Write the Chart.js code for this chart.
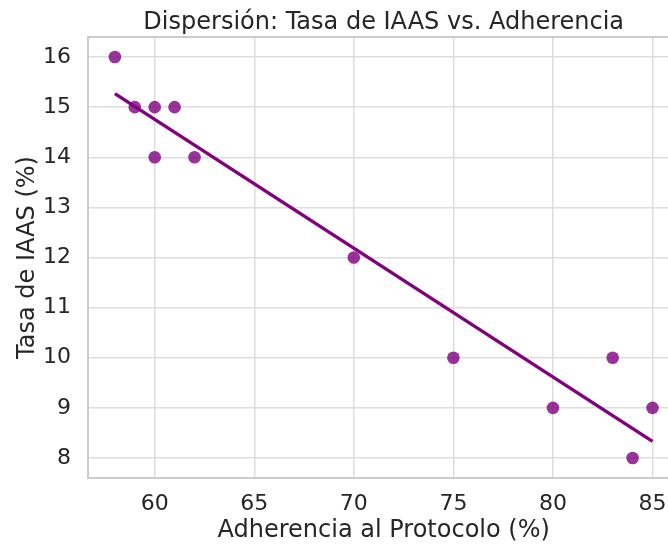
<!DOCTYPE html>
<html>
<head>
<meta charset="utf-8">
<script src="https://cdn.jsdelivr.net/npm/chart.js@4.4.1/dist/chart.umd.min.js"></script>
<style>
    html, body { margin: 0; padding: 0; background: white; overflow: hidden; }
    #wrap { width: 700px; height: 545px; }
</style>
</head>
<body>
<div id="wrap"><canvas id="scatterChart" width="700" height="545"></canvas></div>
<script>
// datos
const adherencia = [58, 59, 60, 61, 60, 62, 70, 75, 80, 83, 84, 85]
const tasaIAAS = [16, 15, 15, 15, 14, 14, 12, 10, 9, 10, 8, 9]
// recta de regresion (extremos)
const lineaX = [58, 85]
const lineaY = [15.27, 8.33]

const puntos = adherencia.map((x, i) => ({ x: x, y: tasaIAAS[i] }))
const recta = lineaX.map((x, i) => ({ x: x, y: lineaY[i] }))

const textColor = '#262626'
const fontFamily = "'DejaVu Sans', sans-serif"

var scatterChart = new Chart(
    document.getElementById('scatterChart'),
    {
        type: 'scatter',

        data: {
            datasets: [
                {
                    type: 'line',
                    data: recta,
                    borderColor: '#800080',
                    borderWidth: 3.4,
                    pointRadius: 0,
                    fill: false,
                    order: 0
                },
                {
                    data: puntos,
                    backgroundColor: 'rgba(128, 0, 128, 0.8)',
                    borderWidth: 0,
                    pointRadius: 6.3,
                    order: 1
                }
            ]
        },

        options: {
            responsive: false,
            animation: false,
            layout: {
                padding: { left: 0, right: 20.6, top: 0, bottom: 0 }
            },
            plugins: {
                title: {
                    display: true,
                    fullSize: false,   // centrado sobre el area del grafico
                    text: 'Dispersión: Tasa de IAAS vs. Adherencia',
                    color: textColor,
                    font: { family: fontFamily, size: 24, weight: 'normal' },
                    padding: { top: 8, bottom: 0.2 },
                    align: 'center'
                },
                legend: { display: false },
                tooltip: { enabled: false }
            },
            scales: {
                x: {
                    type: 'linear',
                    min: 56.65,
                    max: 86.35,
                    afterFit: function (scale) { scale.height = 67 },
                    ticks: {
                        stepSize: 5,
                        includeBounds: false,
                        color: textColor,
                        padding: 13,
                        maxRotation: 0,
                        font: { family: fontFamily, size: 22 }
                    },
                    grid: { color: '#dddddd', lineWidth: 1.5, drawTicks: false },
                    border: { color: '#cccccc', width: 2 },
                    title: {
                        display: true,
                        text: 'Adherencia al Protocolo (%)',
                        color: textColor,
                        padding: { top: 0, bottom: 0 },
                        font: { family: fontFamily, size: 24 }
                    }
                },
                // solo para el borde superior
                xTop: {
                    type: 'linear',
                    position: 'top',
                    min: 56.65,
                    max: 86.35,
                    afterFit: function (scale) { scale.height = 0 },
                    ticks: { display: false },
                    grid: { display: false, drawTicks: false },
                    border: { color: '#cccccc', width: 2 }
                },
                y: {
                    type: 'linear',
                    min: 7.6,
                    max: 16.4,
                    afterFit: function (scale) { scale.width = 88 },
                    ticks: {
                        stepSize: 1,
                        includeBounds: false,
                        color: textColor,
                        padding: 17,
                        font: { family: fontFamily, size: 22 }
                    },
                    grid: { color: '#dddddd', lineWidth: 1.5, drawTicks: false },
                    border: { color: '#cccccc', width: 2 },
                    title: {
                        display: true,
                        text: 'Tasa de IAAS (%)',
                        color: textColor,
                        padding: { top: 13.4, bottom: 0 },
                        font: { family: fontFamily, size: 24 }
                    }
                }
            }
        }
    }
);
</script>
</body>
</html>
